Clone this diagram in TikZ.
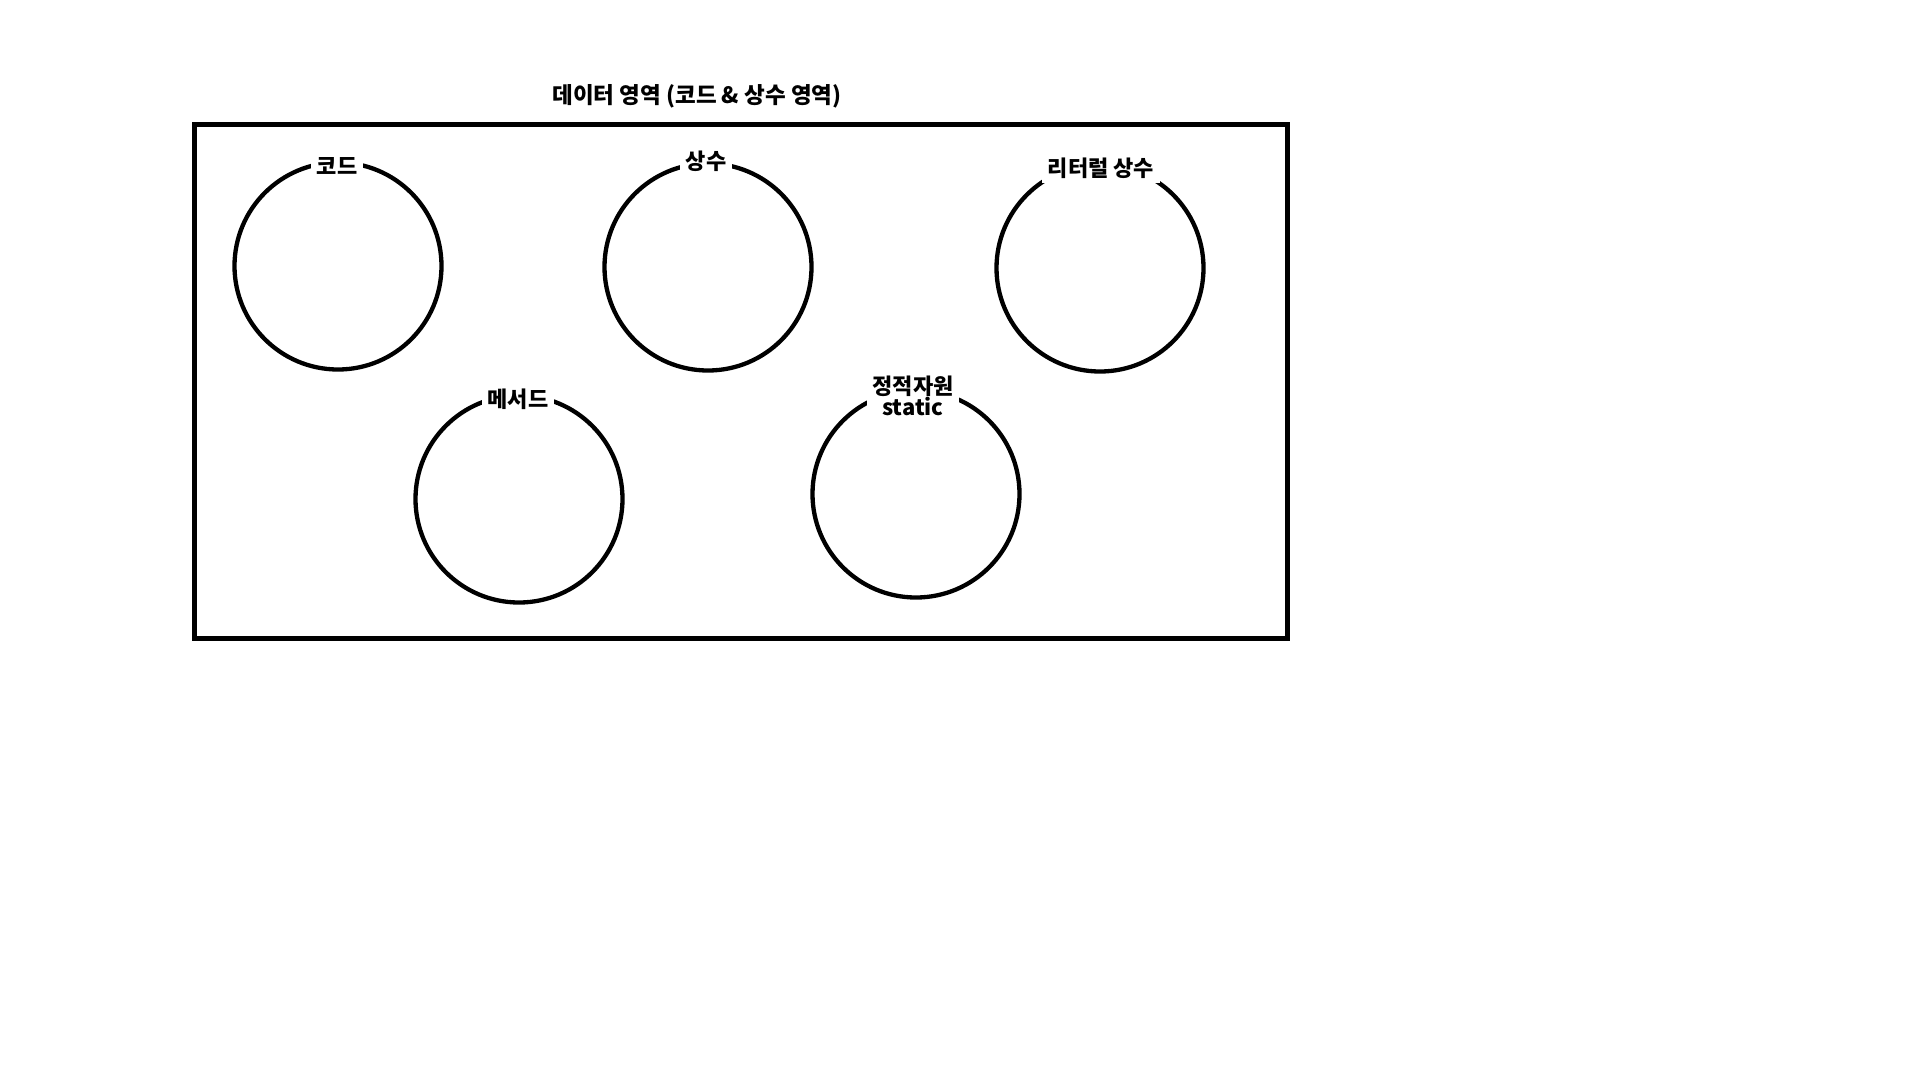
\documentclass[tikz,border=0pt]{standalone}
\usepackage{fontspec}
\setmainfont{Noto Sans CJK KR}
\begin{document}
\begin{tikzpicture}[x=1pt,y=-1pt,
  ring/.style={draw=black,line width=4.3pt,circle,minimum size=207pt,inner sep=0pt},
  lbl/.style={fill=white,inner xsep=6pt,inner ysep=1pt,font=\bfseries\fontsize{22}{24}\selectfont,align=center},
  ttl/.style={font=\bfseries\fontsize{22.5}{25}\selectfont}]
\useasboundingbox (0,0) rectangle (1920,1080);
\node[draw=black,line width=4.8pt,minimum width=1093pt,minimum height=514pt,inner sep=0pt,anchor=north west] (box) at (192,122) {};
\node[ttl] (title) at (697,96) {데이터 영역 (코드 \& 상수 영역)};
\node[ring] (c1) at (338,266) {};
\node[ring] (c2) at (708,267) {};
\node[ring] (c3) at (1100,268) {};
\node[ring] (c4) at (519,499) {};
\node[ring] (c5) at (916,494) {};
\node[lbl] (l1) at (337,166) {코드};
\node[lbl] (l2) at (706,161) {상수};
\node[lbl,inner ysep=5pt] (l3) at (1101,168) {리터럴 상수};
\node[lbl] (l4) at (518,399) {메서드};
\node[lbl,inner ysep=3pt] (l5) at (913,396) {정적자원\\[-3pt]static};
\end{tikzpicture}
\end{document}
